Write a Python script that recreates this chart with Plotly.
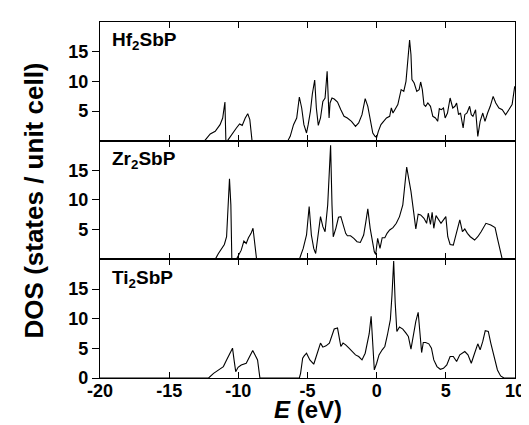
import plotly.graph_objects as go
from plotly.subplots import make_subplots

# ---- data (energy in eV, DOS in states / unit cell) ----
hf_E = [-20, -12.43, -12.03, -11.67, -11.32, -11.13, -10.97, -10.90, -10.78, -10.50, -10.14, -9.91, -9.72,
        -9.50, -9.32, -9.17, -9.01, -6.42, -6.25, -6.01, -5.78, -5.59, -5.42, -5.26, -5.07, -4.95,
        -4.79, -4.65, -4.48, -4.36, -4.22, -4.06, -3.89, -3.73, -3.58, -3.51, -3.44, -3.37, -3.23,
        -3.07, -2.83, -2.59, -2.36, -2.12, -1.82, -1.53, -1.30, -1.06, -0.83, -0.64, -0.47, -0.28,
        -0.12, 0.0, 0.12, 0.31, 0.50, 0.71, 0.94, 1.06, 1.18, 1.34, 1.53, 1.77, 1.96, 2.12, 2.24,
        2.38, 2.48, 2.55, 2.71, 2.90, 3.07, 3.18, 3.30, 3.42, 3.54, 3.70, 3.89, 4.06, 4.25, 4.41,
        4.53, 4.67, 4.83, 4.95, 5.12, 5.31, 5.50, 5.66, 5.78, 5.92, 6.06, 6.25, 6.37, 6.53, 6.72,
        6.84, 6.96, 7.15, 7.31, 7.48, 7.67, 7.83, 8.02, 8.21, 8.42, 8.61, 8.84, 9.08, 9.32, 9.55,
        9.79, 9.98]
hf_dos = [0, 0, 1.12, 1.57, 2.70, 3.82, 6.52, 0, 0, 1.01, 2.13, 2.81, 2.58,
          3.82, 4.55, 3.54, 0, 0, 0.73, 2.70, 3.82, 7.36, 5.51, 2.70, 1.29, 2.70,
          4.94, 7.87, 10.22, 5.51, 2.58, 3.82, 6.63, 7.19, 11.69, 7.75, 3.82, 6.35, 7.19,
          7.02, 6.52, 5.22, 4.10, 3.82, 3.26, 2.42, 2.98, 4.38, 7.08, 5.79, 3.82, 1.29,
          0.73, 0.56, 1.57, 2.70, 3.26, 3.82, 4.10, 5.51, 4.66, 5.22, 6.07, 8.60, 8.31, 10.0, 12.81,
          16.97, 14.49, 10.28, 9.72, 8.31, 8.60, 9.89, 8.60, 6.07, 5.79, 6.35, 5.79, 4.10, 3.82, 3.26,
          5.39, 5.22, 5.51, 3.82, 4.66, 7.19, 5.51, 5.79, 6.35, 4.38, 4.66, 2.13, 4.38, 4.66, 5.79,
          4.38, 4.10, 5.22, 0.73, 3.26, 4.66, 3.26, 4.66, 5.79, 7.47, 6.35, 5.51, 5.22, 4.38, 5.22,
          6.07, 9.16]

zr_E = [-20, -11.67, -11.44, -11.20, -11.01, -10.85, -10.73, -10.64, -10.54, -10.47, -10.14, -9.98, -9.79,
        -9.60, -9.43, -9.27, -9.08, -8.94, -8.82, -8.68, -5.59, -5.31, -5.07, -4.88, -4.72, -4.55,
        -4.41, -4.25, -4.06, -3.89, -3.73, -3.54, -3.42, -3.33, -3.23, -3.14, -2.95, -2.76, -2.59,
        -2.43, -2.24, -2.12, -1.89, -1.65, -1.42, -1.18, -0.94, -0.78, -0.64, -0.47, -0.31, -0.17,
        -0.07, 0.07, 0.24, 0.40, 0.59, 0.75, 0.94, 1.18, 1.42, 1.65, 1.89, 2.05, 2.17, 2.31, 2.48,
        2.67, 2.83, 3.00, 3.18, 3.42, 3.61, 3.73, 3.89, 4.01, 4.13, 4.29, 4.48, 4.65, 4.83, 5.00,
        5.14, 5.31, 5.54, 5.78, 6.01, 6.20, 6.37, 6.56, 6.77, 7.08, 7.31, 7.55, 7.90, 8.25, 8.56,
        8.73, 8.92, 9.08, 10]
zr_dos = [0, 0, 0.99, 1.84, 2.51, 3.81, 9.18, 13.59, 9.18, 0, 0, 0.71, 1.55,
          3.08, 2.68, 3.64, 4.38, 5.23, 2.97, 0, 0, 1.84, 4.10, 8.90, 4.10, 1.84,
          0.99, 3.53, 7.20, 5.51, 4.66, 9.18, 14.27, 19.24, 9.18, 3.81, 5.23, 7.09, 7.20,
          6.07, 4.38, 3.98, 3.98, 3.53, 2.97, 2.85, 4.10, 6.36, 8.50, 5.23, 2.68, 1.27,
          0.82, 3.53, 1.84, 3.64, 3.64, 4.38, 4.94, 5.34, 6.07, 7.20, 9.18, 12.57, 15.56, 13.70, 11.44,
          8.05, 5.11, 7.60, 7.49, 6.92, 6.07, 7.77, 5.90, 7.93, 5.23, 7.37, 6.64, 6.07, 6.64, 7.20,
          3.81, 2.51, 2.40, 4.66, 6.64, 4.66, 5.11, 4.38, 3.81, 3.25, 3.81, 4.66, 6.07, 5.79, 5.34,
          3.53, 1.55, 0, 0]

ti_E = [-20, -12.15, -11.79, -11.44, -11.08, -10.85, -10.61, -10.42, -10.31, -10.19, -10.02, -9.79, -9.43,
        -9.27, -9.13, -8.96, -8.80, -8.61, -8.44, -5.59, -5.50, -5.35, -5.24, -5.07, -4.83, -4.55,
        -4.41, -4.25, -4.06, -3.89, -3.66, -3.42, -3.23, -3.07, -2.83, -2.59, -2.43, -2.24, -2.00,
        -1.77, -1.53, -1.30, -1.06, -0.83, -0.54, -0.40, -0.28, -0.17, 0.0, 0.17, 0.40, 0.59, 0.78,
        0.99, 1.11, 1.23, 1.34, 1.46, 1.65, 1.89, 2.12, 2.29, 2.48, 2.62, 2.83, 3.00, 3.14, 3.25,
        3.37, 3.54, 3.77, 3.96, 4.13, 4.36, 4.60, 4.83, 5.07, 5.31, 5.54, 5.78, 6.01, 6.37, 6.60,
        6.84, 7.08, 7.31, 7.48, 7.67, 7.85, 8.07, 8.25, 8.49, 8.73, 8.96, 9.20, 10]
ti_dos = [0, 0, 0.79, 1.36, 1.92, 3.05, 4.29, 5.03, 3.05, 1.07, 1.81, 2.20, 2.49,
          3.16, 3.90, 4.63, 3.90, 3.05, 0, 0, 0.79, 3.33, 3.73, 4.18, 3.05, 2.32,
          3.33, 4.46, 5.88, 5.20, 5.42, 5.88, 7.01, 8.25, 8.42, 5.31, 5.88, 5.59, 5.03,
          4.46, 3.90, 3.62, 3.05, 4.18, 7.46, 10.40, 5.88, 1.36, 2.49, 3.90, 4.75, 5.31, 7.29,
          9.83, 14.07, 19.72, 12.66, 7.85, 8.59, 8.25, 7.57, 7.01, 4.86, 6.72, 9.55, 11.07, 7.57, 4.29,
          5.99, 5.99, 5.76, 5.03, 3.05, 1.92, 1.47, 1.64, 2.20, 3.62, 3.62, 2.77, 3.90, 4.46, 3.90,
          2.49, 4.18, 5.76, 4.75, 6.16, 7.97, 7.85, 5.88, 3.62, 1.36, 0.34, 0, 0]

panels = [("Hf<sub>2</sub>SbP", hf_E, hf_dos),
          ("Zr<sub>2</sub>SbP", zr_E, zr_dos),
          ("Ti<sub>2</sub>SbP", ti_E, ti_dos)]
x_ticks = [-20, -15, -10, -5, 0, 5, 10]
x_tick_labels = ["-20", "-15", "-10", "-5", "0", "5", "10"]
y_ticks_upper = [5, 10, 15]
y_ticks_lower = [0, 5, 10, 15]

FONT = "Liberation Sans, Arial, sans-serif"

fig = make_subplots(rows=3, cols=1, shared_xaxes=True, vertical_spacing=0)

for i, (name, E, dos) in enumerate(panels, start=1):
    fig.add_trace(go.Scatter(x=E, y=dos, mode="lines",
                             line=dict(color="black", width=1.1),
                             showlegend=False, hoverinfo="skip"),
                  row=i, col=1)

for i in range(1, 4):
    xa = "xaxis" if i == 1 else f"xaxis{i}"
    ya = "yaxis" if i == 1 else f"yaxis{i}"
    fig.layout[xa].update(range=[-20, 10], tickvals=x_ticks, ticktext=x_tick_labels,
                          ticks="inside", ticklen=6, ticklabelstandoff=-4,
                          tickwidth=1, tickcolor="black", showline=True, linecolor="black",
                          linewidth=1.2, mirror="ticks", showgrid=False, zeroline=False,
                          showticklabels=(i == 3),
                          tickfont=dict(family=FONT, size=18, color="black", weight="bold"))
    fig.layout[ya].update(range=[0, 20], tickvals=(y_ticks_lower if i == 3 else y_ticks_upper),
                          ticks="outside", ticklen=7, tickwidth=1, tickcolor="black",
                          showline=True, linecolor="black", linewidth=1.2, mirror=True,
                          showgrid=False, zeroline=False,
                          tickfont=dict(family=FONT, size=18, color="black", weight="bold"))
    # right-hand inside ticks
    ov = f"yaxis{i + 3}"
    fig.layout[ov] = dict(overlaying=("y" if i == 1 else f"y{i}"), side="right",
                          anchor=("x" if i == 1 else f"x{i}"),
                          range=[0, 20], tickvals=y_ticks_upper, ticks="inside", ticklen=6,
                          tickwidth=1, tickcolor="black", showticklabels=False,
                          showline=False, showgrid=False, zeroline=False)

# panel labels
for i, (name, E, dos) in enumerate(panels, start=1):
    fig.add_annotation(text=name, xref="x" if i == 1 else f"x{i}",
                       yref=("y domain" if i == 1 else f"y{i} domain"),
                       x=-19.25, y=0.955, xanchor="left", yanchor="top", showarrow=False,
                       font=dict(family=FONT, size=19, color="black", weight="bold"))

# axis titles
fig.add_annotation(text="DOS (states / unit cell)", xref="paper", yref="paper",
                   x=-0.158, y=0.50, xanchor="center", yanchor="middle", textangle=-90,
                   showarrow=False, font=dict(family=FONT, size=26, color="black", weight="bold"))
fig.add_annotation(text="<i>E</i> (eV)", xref="paper", yref="paper",
                   x=0.5, y=-0.088, xanchor="center", yanchor="middle",
                   showarrow=False, font=dict(family=FONT, size=24, color="black", weight="bold"))

fig.update_layout(width=529, height=425, margin=dict(l=92, r=13, t=14, b=55),
                  plot_bgcolor="white", paper_bgcolor="white", showlegend=False)

fig.write_html("out.html")
